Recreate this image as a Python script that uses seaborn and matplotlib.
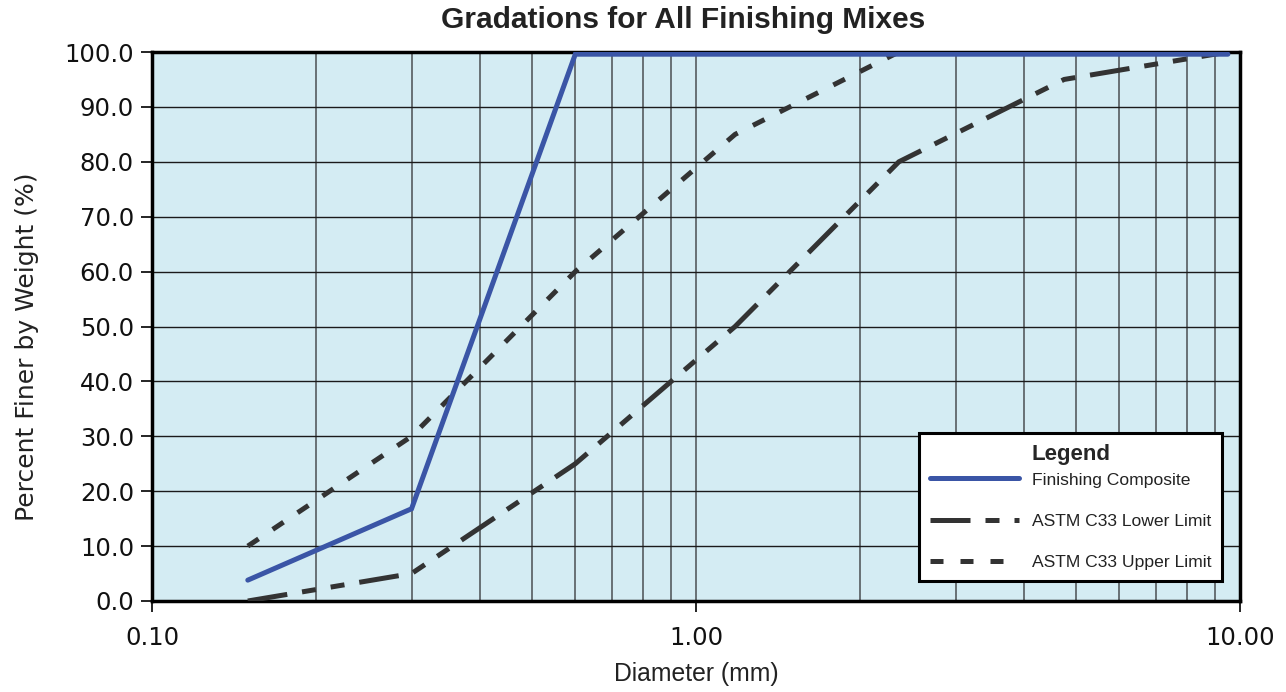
import matplotlib
matplotlib.use("Agg")
import matplotlib.pyplot as plt
from matplotlib.ticker import LogLocator, FixedLocator, FixedFormatter, NullFormatter
import seaborn as sns
import pandas as pd

# Sieve sizes (mm) and percent passing for each gradation curve
sieve_mm = [0.15, 0.3, 0.6, 1.18, 2.36, 4.75, 9.5]
composite = [3.8, 16.8, 99.6, 99.6, 99.6, 99.6, 99.6]
lower_limit = [0.0, 5.0, 25.0, 50.0, 80.0, 95.0, 100.0]
upper_limit = [10.0, 30.0, 60.0, 85.0, 100.0, 100.0, 100.0]

series_names = ["Finishing Composite", "ASTM C33 Lower Limit", "ASTM C33 Upper Limit"]
x_ticks = [0.1, 1.0, 10.0]
x_tick_labels = ["0.10", "1.00", "10.00"]
y_ticks = [0, 10, 20, 30, 40, 50, 60, 70, 80, 90, 100]

sns.set_theme(style="white")
plt.rcParams["font.family"] = ["DejaVu Sans"]

fig = plt.figure(figsize=(12.86, 6.92), dpi=100)
ax = fig.add_axes([152 / 1286, 1 - 601 / 692, 1088 / 1286, 549 / 692])
ax.set_facecolor("#d4ecf3")

blue = "#3a55a6"
dark = "#333333"
lw = 3.6

df = pd.DataFrame({"x": sieve_mm, "comp": composite, "low": lower_limit, "up": upper_limit})

# lower limit: long dash followed by two short dashes; upper limit: short square dashes
sns.lineplot(data=df, x="x", y="low", ax=ax, color=dark, lw=lw,
             linestyle=(0, (8.0, 3.0, 2.8, 3.0, 2.8, 3.0)), label=series_names[1], zorder=3)
sns.lineplot(data=df, x="x", y="up", ax=ax, color=dark, lw=lw,
             linestyle=(0, (2.6, 3.4)), label=series_names[2], zorder=3)
sns.lineplot(data=df, x="x", y="comp", ax=ax, color=blue, lw=lw,
             label=series_names[0], zorder=4)
for line in ax.get_lines():
    line.set_dash_capstyle("butt")
    line.set_solid_joinstyle("miter")

ax.set_xscale("log")
ax.set_xlim(0.1, 10)
ax.set_ylim(0, 100)

ax.xaxis.set_major_locator(FixedLocator(x_ticks))
ax.xaxis.set_major_formatter(FixedFormatter(x_tick_labels))
ax.xaxis.set_minor_locator(LogLocator(base=10, subs=[2, 3, 4, 5, 6, 7, 8, 9]))
ax.xaxis.set_minor_formatter(NullFormatter())
ax.set_yticks(y_ticks)
ax.set_yticklabels([f"{v:.1f}" for v in y_ticks])

ax.tick_params(axis="x", which="major", direction="out", length=8, width=1.2,
               color="black", labelsize=17.5, labelcolor="#111111", pad=10, bottom=True)
ax.tick_params(axis="x", which="minor", length=0)
ax.tick_params(axis="y", which="major", direction="out", length=8, width=1.2,
               color="black", labelsize=17.5, labelcolor="#111111", pad=5, left=True)

ax.grid(axis="x", which="both", color="#5f666a", lw=1.3, zorder=1)
ax.grid(axis="y", which="major", color="#1a1a1a", lw=1.0, zorder=1)
ax.set_axisbelow(True)

for side in ["left", "bottom", "top", "right"]:
    ax.spines[side].set_visible(True)
    ax.spines[side].set_color("black")
    ax.spines[side].set_linewidth(2.5)

ax.set_xlabel("")
ax.set_ylabel("")
fig.text(27 / 1286, 1 - 347 / 692, "Percent Finer by Weight (%)", rotation=90,
         ha="center", va="center", fontsize=18, color="#222222")
fig.text(696 / 1286, 1 - 674 / 692, "Diameter (mm)", ha="center", va="center",
         fontsize=17.8, color="#222222", family=["Liberation Sans"])
fig.text(683 / 1286, 1 - 20 / 692, "Gradations for All Finishing Mixes", ha="center",
         va="center", fontsize=21.5, fontweight="bold", color="#222222",
         family=["Liberation Sans"])

handles, labels = ax.get_legend_handles_labels()
order = [labels.index(n) for n in series_names]
leg = ax.legend([handles[i] for i in order], [labels[i] for i in order],
                title="Legend", loc="lower right",
                bbox_to_anchor=((1222 - 152) / 1088, (601 - 581) / 549),
                frameon=True, fancybox=False, edgecolor="black", framealpha=1,
                prop={"family": "Liberation Sans", "size": 12.6},
                handlelength=5.1, labelspacing=1.5, handletextpad=0.75,
                borderpad=0.6, borderaxespad=0)
# tighter gap between the legend title and its first entry
leg._legend_box.sep = 5.4
leg.get_frame().set_linewidth(2.2)
leg.get_title().set_fontweight("bold")
leg.get_title().set_fontsize(16)
leg.get_title().set_family("Liberation Sans")
for t in leg.get_texts():
    t.set_color("#222222")

fig.savefig("out.png", dpi=100, facecolor="white")
